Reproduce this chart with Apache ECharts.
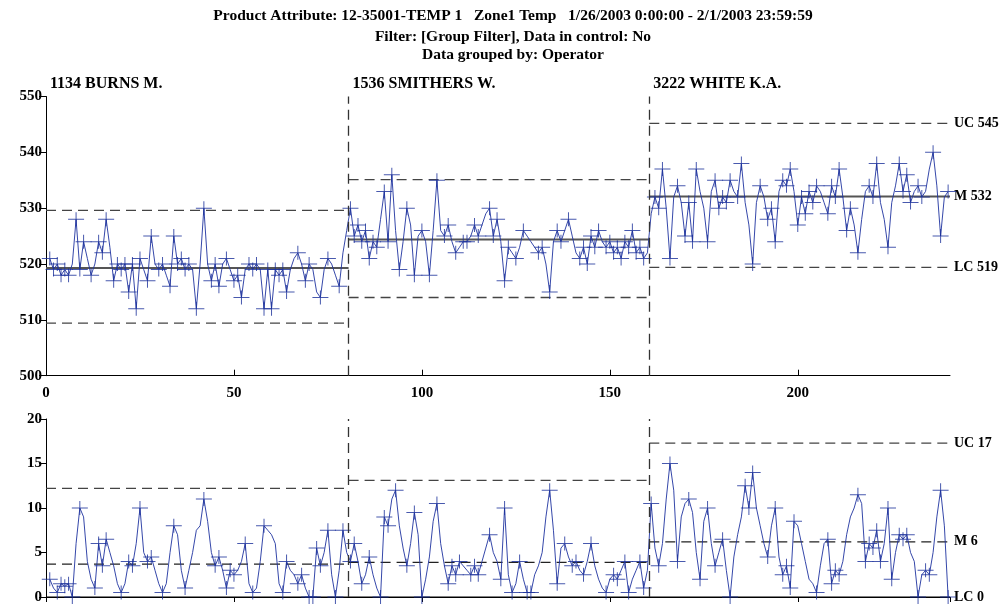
<!DOCTYPE html>
<html><head><meta charset="utf-8">
<script src="https://cdn.jsdelivr.net/npm/echarts@6/dist/echarts.min.js"></script>
<style>html,body{margin:0;padding:0;background:#fff}#c{width:1002px;height:605px}</style>
</head><body><div id="c"></div>
<script>
const titleLines = [
  'Product Attribute: 12-35001-TEMP 1   Zone1 Temp   1/26/2003 0:00:00 - 2/1/2003 23:59:59',
  'Filter: [Group Filter], Data in control: No',
  'Data grouped by: Operator'
];
const groupNames = ['1134 BURNS M.', '1536 SMITHERS W.', '3222 WHITE K.A.'];
const groupBounds = [0, 80.5, 160.5, 240.5];

const xbarBurns = [521,519,520,518,519,518,520,528,519,524, 521,518,520,524,522,528,523,517,520,519,
  520,515,520,512,521,519,517,525,520,519, 520,518,516,525,520,521,519,520,519,512,
  520,530,520,517,520,516,520,521,519,517, 518,514,519,520,519,520,519,512,519,512,
  519,518,519,515,519,521,522,520,517,520, 519,515,514,519,521,520,518,516,522,526];
const xbarSmithers = [530,525,527,524,526,521,524,523,528,533, 524,536,526,519,524,530,527,518,525,526,
  524,518,526,535,526,525,527,524,522,523, 524,524,525,527,525,527,529,530,525,528,
  524,517,523,522,521,523,526,525,524,523, 522,523,520,515,524,526,524,526,528,525,
  522,521,523,520,525,523,526,524,523,524, 522,523,521,524,523,526,522,523,521,522];
const xbarWhite = [529,532,530,537,530,521,532,534,531,525, 531,524,537,533,530,524,533,535,530,532,
  531,535,533,532,538,531,527,520,531,534, 532,528,530,524,533,535,534,537,533,527,
  532,529,533,531,534,533,531,529,534,532, 537,532,526,530,527,522,528,533,534,532,
  538,531,528,523,531,534,538,533,536,531, 533,534,532,533,537,540,534,525,532,533];

const rangeBurns = [2,1,0.5,1.5,1.2,1.5,0,6,10,9, 4,2,1,6,3.5,6.5,5,3.5,1.5,0.5,
  1.5,4,3.5,6,10,5,4,4.5,3,1.5, 0.5,1.5,5,8,7,3,1,3,5,7.5,
  8,11,8.5,5,3.5,4.5,3,1,3,2.5, 3,4,6,1.5,0.5,1,4,8,7.5,7,
  6,1.5,0.5,4,3,2.5,1.5,2.5,1,0, 0,5.5,3.5,5,7.5,2.5,0,3,7.5,5];
const rangeSmithers = [4,6,4,1.5,2.5,4.5,2.5,1,0,9, 8,11,12,8,5.5,3.5,6,9.5,7,0,
  2,4.5,8.5,10.5,6,3.5,1.5,3.5,2.5,4, 3.5,3,2.5,3.5,2.5,4,5.5,7,5,4,
  2,10,2.5,0.5,1.5,4,2,0.5,0.5,2.5, 3.5,5,9,12,7.5,1.5,5.5,6,4.5,3.5,
  4,3,2.5,4,6,3.5,2,1,0.5,2, 2.5,2,3,4,0.5,2,3,4,1,3];
const rangeWhite = [10.5,5.5,3.5,6,11,15,12,4,9,10.5, 11,9.5,5,2,8.5,10,6,3.5,5,6.5,
  3,0,4.5,7,9,12.5,10,14,10,8, 6,4.5,8,10,4.5,2.5,3.5,1,8.5,8,
  6,4,2,1.5,0.5,3.5,6,6.5,1.5,3, 2.5,4,7,9,10,11.5,10.5,4,6,5.5,
  7.5,4,6,10,2,5,7,6.5,7,5, 4,0,2.5,3,2.5,5,9,12,8,0];

const xbarUC = [529.6, 535.1, 545.2];
const xbarM  = [519.3, 524.4, 532.1];
const xbarLC = [509.4, 514.0, 519.4];
const rangeUC = [12.2, 13.1, 17.3];
const rangeM  = [3.7, 3.9, 6.2];
const rangeLC = [0, 0, 0];

const FONT = "'Liberation Serif', 'Times New Roman', serif";
const xbar = [].concat(xbarBurns, xbarSmithers, xbarWhite);
const rng = [].concat(rangeBurns, rangeSmithers, rangeWhite);
const toPts = arr => arr.map((v, i) => [i + 1, v]);
function crossPts(arr) {
  const out = [];
  arr.forEach((v, i) => {
    const prev = i > 0 ? arr[i - 1] : v;
    const next = i < arr.length - 1 ? arr[i + 1] : v;
    if ((v - prev) * (next - v) <= 0 && !(v === prev && v === next)) out.push([i + 1, v]);
  });
  return out;
}
const CROSS = 'path://M0,6.5h16v1h-16z M7.5,0h1v14h-1z';

function limitSeries(ax, vals, style, prefix) {
  return vals.map((v, g) => ({
    type: 'line', xAxisIndex: ax, yAxisIndex: ax, silent: true, symbol: 'none', z: 1,
    data: [[groupBounds[g], v], [groupBounds[g + 1], v]],
    lineStyle: style,
    endLabel: g === vals.length - 1 ? {
      show: true, formatter: prefix + ' ' + Math.round(v), distance: 4,
      fontFamily: FONT, fontSize: 14, fontWeight: 'bold', color: '#000'
    } : { show: false }
  }));
}
const dashStyle = { color: '#444', width: 1.3, type: [10, 6] };
const meanTop = { color: '#555', width: 2, type: 'solid' };
const meanBot = { color: '#222', width: 1.2, type: [10, 6] };

const sepLine = {
  silent: true, symbol: 'none', label: { show: false },
  lineStyle: { color: '#333', width: 1.3, type: [10, 6] },
  data: groupBounds.slice(1, -1).map(b => ({ xAxis: b }))
};

function dataSeries(ax, arr) {
  return [{
    type: 'line', xAxisIndex: ax, yAxisIndex: ax, data: toPts(arr), symbol: 'none', z: 3,
    lineStyle: { color: '#1f33a0', width: 1, opacity: 0.9 }, markLine: sepLine
  }, {
    type: 'scatter', xAxisIndex: ax, yAxisIndex: ax, data: crossPts(arr), symbol: CROSS,
    symbolSize: [16, 14], z: 4, itemStyle: { color: '#1a2f9a', opacity: 0.8 }
  }];
}

const axisText = { fontFamily: FONT, fontSize: 15, fontWeight: 'bold', color: '#000' };
const chart = echarts.init(document.getElementById('c'));
chart.setOption({
  animation: false,
  backgroundColor: '#fff',
  grid: [
    { left: 46, right: 52, top: 96.5, height: 279.2 },
    { left: 46, right: 52, top: 419, height: 178 }
  ],
  xAxis: [
    { gridIndex: 0, type: 'value', min: 0, max: 240.5, interval: 50,
      axisLine: { lineStyle: { color: '#000', width: 1 } },
      axisTick: { inside: true, length: 6, lineStyle: { color: '#000' } },
      axisLabel: Object.assign({ margin: 10, showMaxLabel: false, formatter: v => (v % 50 === 0 ? String(v) : '') }, axisText),
      splitLine: { show: false } },
    { gridIndex: 1, type: 'value', min: 0, max: 240.5, interval: 50,
      axisLine: { lineStyle: { color: '#000', width: 1 } },
      axisTick: { inside: false, length: 5, lineStyle: { color: '#000' } },
      axisLabel: { show: false }, splitLine: { show: false } }
  ],
  yAxis: [
    { gridIndex: 0, type: 'value', min: 500, max: 550, interval: 10,
      axisLine: { show: true, lineStyle: { color: '#000' } },
      axisTick: { show: true, length: 7, lineStyle: { color: '#000' } },
      axisLabel: Object.assign({ margin: 4 }, axisText), splitLine: { show: false } },
    { gridIndex: 1, type: 'value', min: 0, max: 20, interval: 5,
      axisLine: { show: true, lineStyle: { color: '#000' } },
      axisTick: { show: true, length: 7, lineStyle: { color: '#000' } },
      axisLabel: Object.assign({ margin: 4 }, axisText), splitLine: { show: false } }
  ],
  series: [].concat(
    limitSeries(0, xbarUC, dashStyle, 'UC'),
    limitSeries(0, xbarM, meanTop, 'M'),
    limitSeries(0, xbarLC, dashStyle, 'LC'),
    limitSeries(1, rangeUC, dashStyle, 'UC'),
    limitSeries(1, rangeM, meanBot, 'M'),
    limitSeries(1, rangeLC, { color: '#000', width: 1 }, 'LC'),
    dataSeries(0, xbar),
    dataSeries(1, rng)
  )
});

const titleY = [16, 37, 55];
const graphics = titleLines.map((t, i) => ({
  type: 'text', x: 513, y: titleY[i],
  style: { text: t, fontFamily: FONT, fontSize: 15.5, fontWeight: 'bold', fill: '#000', textAlign: 'center', textVerticalAlign: 'middle' }
}));
const topY = chart.convertToPixel({ yAxisIndex: 0 }, 550);
groupNames.forEach((n, g) => {
  const px = chart.convertToPixel({ xAxisIndex: 0 }, groupBounds[g]);
  graphics.push({ type: 'text', x: px + 4, y: topY - 13,
    style: { text: n, fontFamily: FONT, fontSize: 16, fontWeight: 'bold', fill: '#000', textAlign: 'left', textVerticalAlign: 'middle' } });
});
chart.setOption({ graphic: graphics });
</script></body></html>
